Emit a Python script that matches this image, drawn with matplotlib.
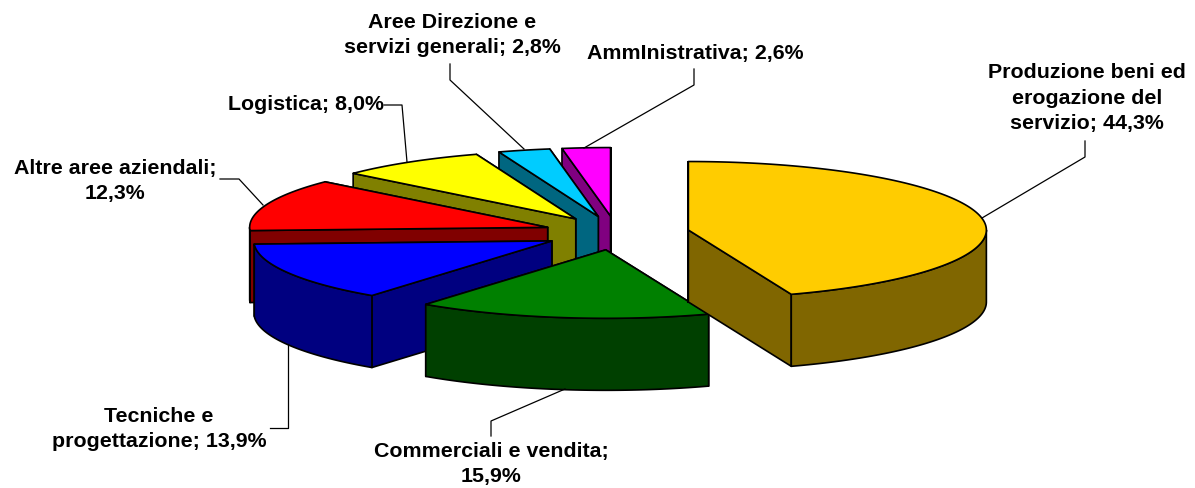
import numpy as np
import matplotlib
matplotlib.use("Agg")
import matplotlib.pyplot as plt
from matplotlib.patches import Polygon

categories = ["Produzione beni ed\nerogazione del\nservizio; 44,3%",
              "Commerciali e vendita;\n15,9%",
              "Tecniche e\nprogettazione; 13,9%",
              "Altre aree aziendali;\n12,3%",
              "Logistica; 8,0%",
              "Aree Direzione e\nservizi generali; 2,8%",
              "AmmInistrativa; 2,6%"]
values = [44.3, 15.9, 13.9, 12.3, 8.0, 2.8, 2.6]
top_colors = ["#FFCC00", "#008000", "#0000FF", "#FF0000", "#FFFF00", "#00CCFF", "#FF00FF"]
side_colors = ["#806600", "#004000", "#000080", "#800000", "#808000", "#006680", "#800080"]
label_pos = [(1087, 98), (491, 464), (159, 429), (115, 181), (306, 105), (452, 35), (695, 53)]
leaders = [[(1085, 141), (1085, 157), (982, 218)],
           [(491, 436), (491, 421), (565, 389)],
           [(270, 428), (288, 428), (288, 344)],
           [(220, 179), (239, 179), (263, 205)],
           [(384, 105), (402, 105), (407, 162)],
           [(450, 64), (450, 80), (524, 149)],
           [(694, 69), (694, 85), (584, 148)]]

CX, CY = 616.5, 233
RX, RY = 298, 68.5
EX, EY = 73, 17
DEPTH = 72

fig = plt.figure(figsize=(11.95, 4.88), dpi=100)
ax = fig.add_axes([0, 0, 1, 1])
ax.set_xlim(0, 1195)
ax.set_ylim(488, 0)
ax.axis("off")

ang = np.radians(np.cumsum([0] + values) / sum(values) * 360)


def rim(t, ox, oy):
    return np.column_stack([ox + RX * np.sin(t), oy - RY * np.cos(t)])


def face(pts, color, z):
    ax.add_patch(Polygon(pts, closed=True, facecolor=color, edgecolor="black",
                         linewidth=1.2, joinstyle="round", zorder=z))


# back slices first, the orange slice and the front slices last
draw_order = [6, 5, 4, 3, 2, 1, 0]
for z, i in enumerate(draw_order):
    a0, a1 = ang[i], ang[i + 1]
    mid = (a0 + a1) / 2
    ox, oy = CX + EX * np.sin(mid), CY - EY * np.cos(mid)
    base = z * 10 + 2
    apex = np.array([ox, oy])
    down = np.array([0, DEPTH])
    # cut faces, the one reaching furthest down drawn last
    ends = sorted([a0, a1], key=lambda a: -np.cos(a))
    for k, a in enumerate(ends):
        p = rim(np.array([a]), ox, oy)[0]
        face([apex, p, p + down, apex + down], side_colors[i], base + k * 0.1)
    # outer wall on the part of the rim facing the viewer
    s, e = max(a0, np.pi / 2), min(a1, 3 * np.pi / 2)
    if e > s:
        t = np.linspace(s, e, 100)
        r = rim(t, ox, oy)
        face(np.vstack([r, (r + down)[::-1]]), side_colors[i], base + 1)
    # top face
    t = np.linspace(a0, a1, 200)
    face(np.vstack([apex, rim(t, ox, oy)]), top_colors[i], base + 2)

for line in leaders:
    xy = np.array(line)
    ax.plot(xy[:, 0], xy[:, 1], color="black", lw=0.9, zorder=200)

for name, (x, y) in zip(categories, label_pos):
    ax.text(x, y, name, ha="center", va="center", multialignment="center",
            family="Liberation Sans", weight="bold", fontsize=15.4, linespacing=1.46,
            color="black", zorder=300)

fig.savefig("out.png", dpi=100)
